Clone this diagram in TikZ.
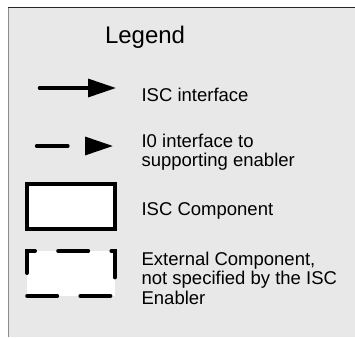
\documentclass[tikz,border=0pt]{standalone}
\usepackage{fontspec}
\setmainfont{Liberation Sans}
\usetikzlibrary{arrows.meta,positioning}
\definecolor{legendgray}{RGB}{232,232,232}
\tikzstyle{legend text}=[anchor=base west,inner sep=0pt,outer sep=0pt,align=left,font=\fontsize{18.5}{19.5}\selectfont]
\tikzstyle{isc line}=[line width=3.3pt,line cap=round,-{Triangle[length=28pt,width=18pt]}]
\tikzstyle{io line}=[isc line,dash pattern=on 31.5pt off 60pt]
\tikzstyle{component}=[fill=white,line width=4pt,minimum width=88pt,minimum height=45pt,inner sep=0pt,outer sep=0pt]
\tikzstyle{external border}=[line width=4pt,line cap=round,dash pattern=on 30pt off 23.2pt]

\begin{document}
\begin{tikzpicture}[x=1pt,y=-1pt]
  \useasboundingbox (0,0) rectangle (355,337);
  % frame
  \fill[legendgray] (8,7) rectangle (355,337);
  \draw[black!45,line width=1.5pt] (8.5,7) -- (8.5,337);
  \draw[black!85,line width=1pt] (8,7.5) -- (355,7.5);

  \node[legend text,font=\fontsize{24}{24}\selectfont] (title) at (105,43.3) {Legend};

  % ISC interface
  \coordinate (iscStart) at (39.4,88);
  \coordinate (iscEnd) at (116,88);
  \draw[isc line] (iscStart) -- (iscEnd);
  \node[legend text] (iscText) at (141.6,101.7) {ISC interface};

  % I0 interface (base = last line)
  \coordinate (ioStart) at (36.5,146);
  \coordinate (ioEnd) at (113,146);
  \draw[io line] (ioStart) -- (ioEnd);
  \node[legend text] (ioText) at (141.6,166.7) {I0 interface to\\supporting enabler};

  % ISC component
  \node[component,draw] (iscBox) at (71,206.5) {};
  \node[legend text] (iscBoxText) at (141.6,215) {ISC Component};

  % external component
  \node[component] (extBox) at (71,273.5) {};
  \coordinate (extStart) at (extBox.south west |- 0,273);
  \draw[external border] (extStart) |- (extBox.north east) |- (extBox.south west) -- cycle;
  \node[legend text] (extText) at (141.6,304) {External Component,\\not specified by the ISC\\Enabler};
\end{tikzpicture}
\end{document}
